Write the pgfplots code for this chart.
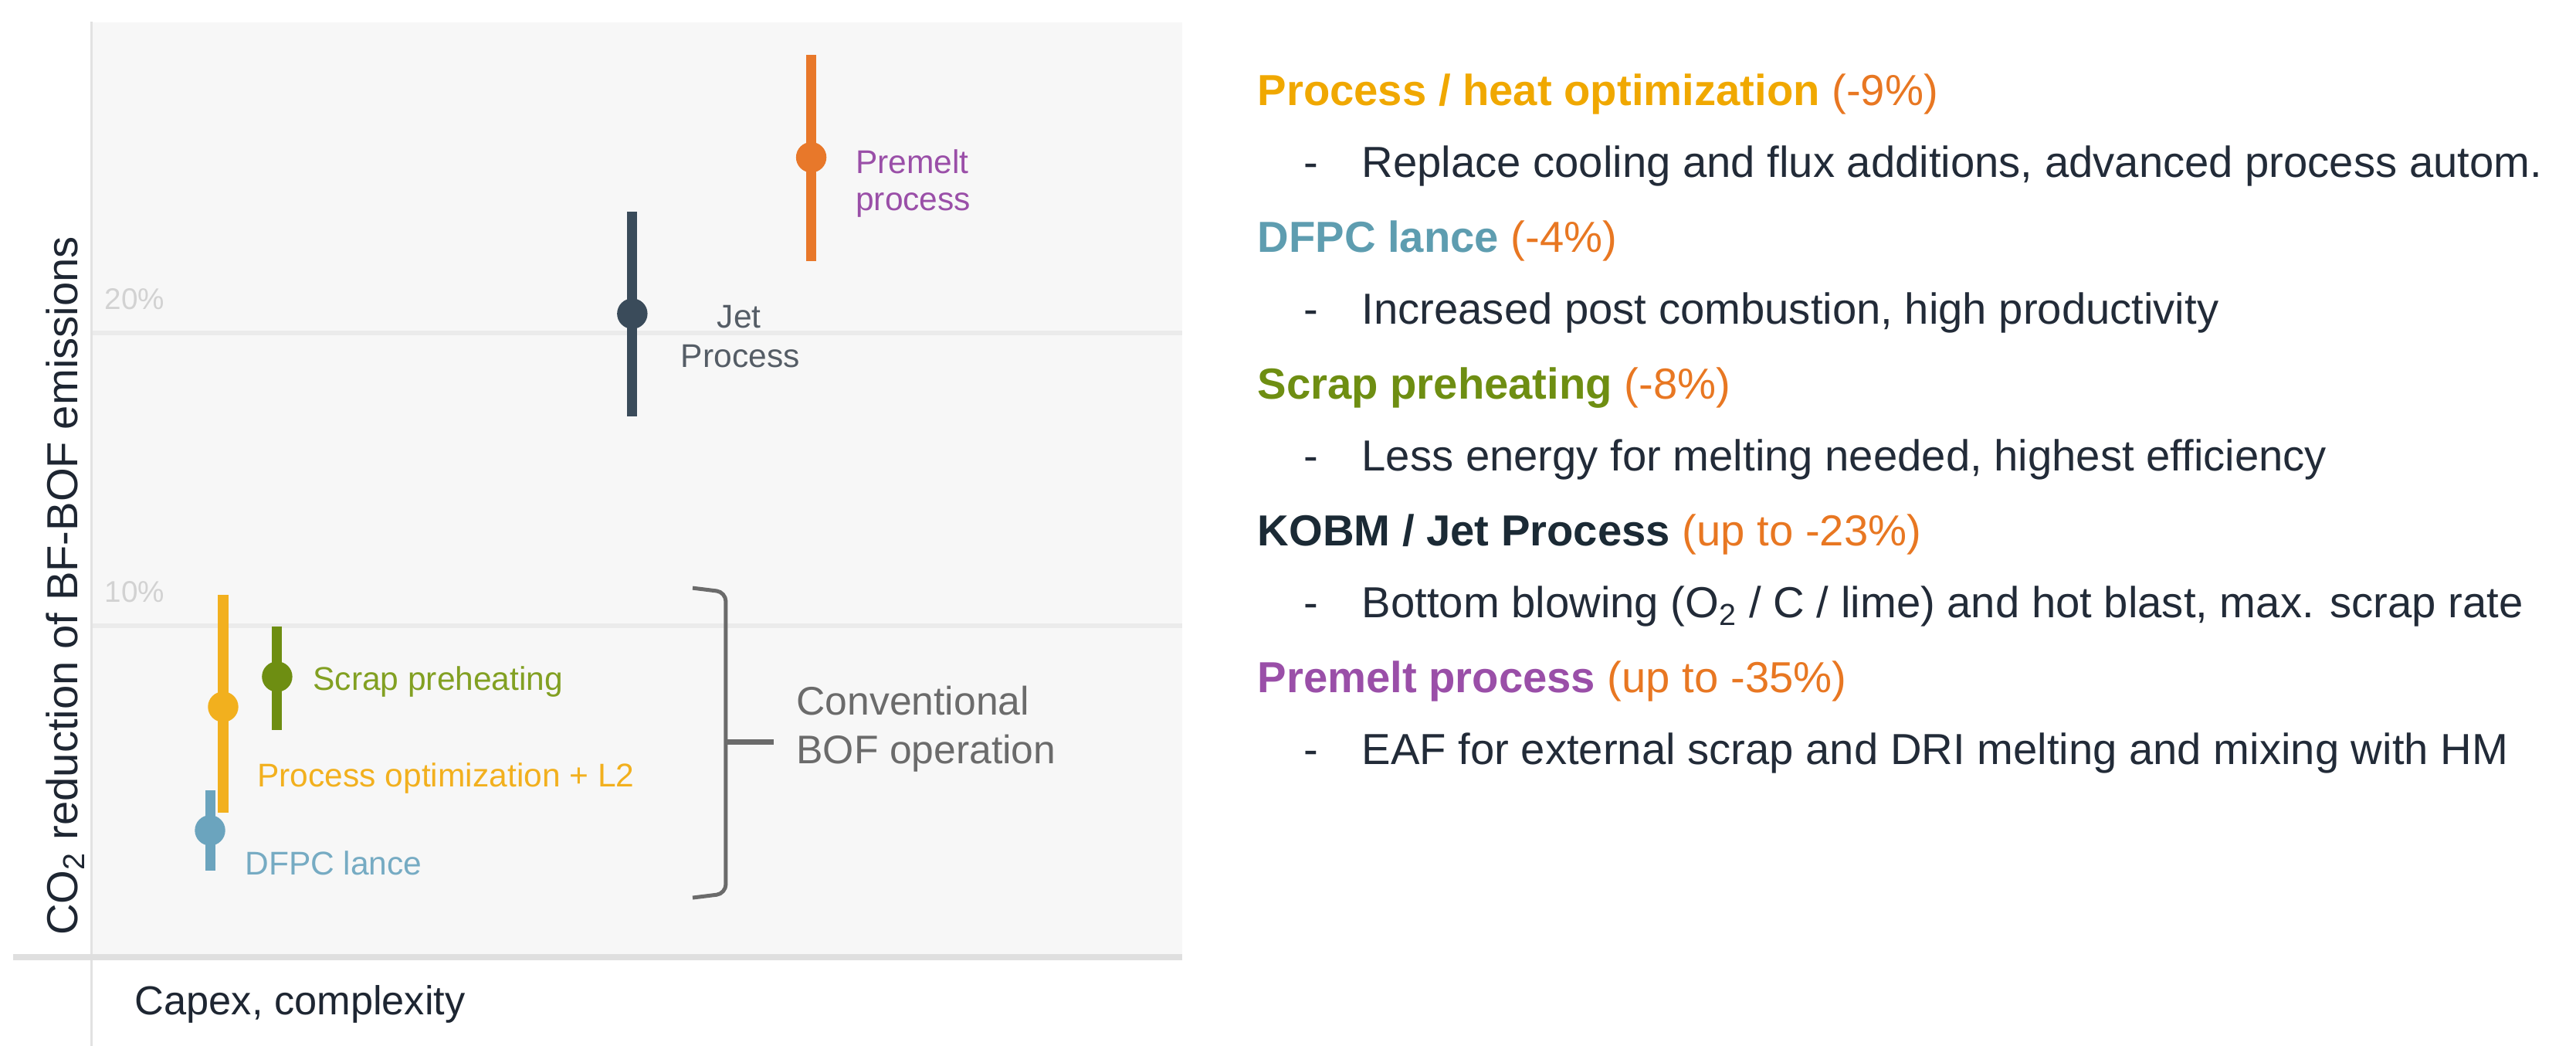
\documentclass[border=0pt]{standalone}
\usepackage{pgfplots}
\pgfplotsset{compat=1.18}
\usepackage{fontspec}
\setmainfont{Liberation Sans}

\definecolor{plotbg}{HTML}{F7F7F7}
\definecolor{gridc}{HTML}{EBEBEB}
\definecolor{axisc}{HTML}{E2E2E2}
\definecolor{tickc}{HTML}{D2D2D2}
\definecolor{cPremelt}{HTML}{E8782A}
\definecolor{cPremeltTxt}{HTML}{9A4FA8}
\definecolor{cJet}{HTML}{3A4B5A}
\definecolor{cJetTxt}{HTML}{555D66}
\definecolor{cProc}{HTML}{F2B01E}
\definecolor{cProcHead}{HTML}{F0A800}
\definecolor{cScrap}{HTML}{6E8E12}
\definecolor{cScrapTxt}{HTML}{82A022}
\definecolor{cDFPC}{HTML}{6BA4BE}
\definecolor{cDFPCTxt}{HTML}{76ABC3}
\definecolor{cDFPCHead}{HTML}{5E9DB0}
\definecolor{cPct}{HTML}{E87722}
\definecolor{cKOBM}{HTML}{1B2A35}
\definecolor{cBody}{HTML}{222B38}
\definecolor{cBrace}{HTML}{6B6B6B}
\definecolor{cLabel}{HTML}{1E2632}

\newcommand{\lblfont}{\fontsize{12.1}{14}\selectfont}
\newcommand{\legfont}{\fontsize{16}{19}\selectfont}

\begin{document}
\begin{tikzpicture}
\useasboundingbox (0,0) rectangle (333.6mm,135.4mm);

\begin{axis}[
  at={(11.8mm,11.5mm)}, anchor=south west,
  scale only axis, width=141.3mm, height=121mm,
  xmin=0, xmax=100, ymin=-1.32, ymax=30.61,
  axis line style={draw=none},
  axis background/.style={fill=plotbg},
  xtick=\empty,
  ytick={10,20}, yticklabels={10\%,20\%},
  major tick length=0pt,
  ymajorgrids, grid style={line width=0.6mm, color=gridc},
  yticklabel style={anchor=base west, xshift=1.7mm, yshift=3.1mm,
    font=\fontsize{11}{13}\selectfont, text=tickc, inner sep=0pt},
  clip=false,
  every node/.style={inner sep=0pt},
]

% ranges of CO2 reduction, dot = expected value
\addplot[only marks, mark=*, mark size=1.9mm, color=cPremelt,
  error bars/.cd, y dir=both, y explicit, error mark=none,
  error bar style={line width=1.3mm, color=cPremelt}]
  coordinates {(66.0,26.0) += (0,3.5) -= (0,3.55)};
\addplot[only marks, mark=*, mark size=1.9mm, color=cJet,
  error bars/.cd, y dir=both, y explicit, error mark=none,
  error bar style={line width=1.3mm, color=cJet}]
  coordinates {(49.6,20.66) += (0,3.48) -= (0,3.51)};
\addplot[only marks, mark=*, mark size=1.9mm, color=cProc,
  error bars/.cd, y dir=both, y explicit, error mark=none,
  error bar style={line width=1.4mm, color=cProc}]
  coordinates {(12.1,7.23) += (0,3.83) -= (0,3.62)};
\addplot[only marks, mark=*, mark size=1.9mm, color=cScrap,
  error bars/.cd, y dir=both, y explicit, error mark=none,
  error bar style={line width=1.3mm, color=cScrap}]
  coordinates {(17.05,8.26) += (0,1.71) -= (0,1.82)};
\addplot[only marks, mark=*, mark size=1.9mm, color=cDFPC,
  error bars/.cd, y dir=both, y explicit, error mark=none,
  error bar style={line width=1.3mm, color=cDFPC}]
  coordinates {(10.9,3.01) += (0,1.37) -= (0,1.37)};

\node[anchor=base west, font=\lblfont, text=cPremeltTxt] at (axis cs:69.2,25.46) {Premelt};
\node[anchor=base west, font=\lblfont, text=cPremeltTxt] at (axis cs:69.2,24.19) {process};
\node[anchor=base, font=\lblfont, text=cJetTxt] at (axis cs:59.4,20.16) {Jet};
\node[anchor=base, font=\lblfont, text=cJetTxt] at (axis cs:59.5,18.84) {Process};
\node[anchor=base west, font=\lblfont, text=cScrapTxt] at (axis cs:19.46,7.81) {Scrap preheating};
\node[anchor=base west, font=\lblfont, text=cProc] at (axis cs:14.37,4.49) {Process optimization + L2};
\node[anchor=base west, font=\lblfont, text=cDFPCTxt] at (axis cs:13.23,1.48) {DFPC lance};

% bracket for the conventional group
\draw[cBrace, line width=0.5mm, rounded corners=1.2mm]
  (axis cs:55.13,11.29) -- (axis cs:58.17,11.15) -- (axis cs:58.17,0.85) -- (axis cs:55.13,0.71);
\draw[cBrace, line width=0.7mm] (axis cs:58.17,6.02) -- (axis cs:62.56,6.02);
\node[anchor=base west, font=\fontsize{14.7}{17}\selectfont, text=cBrace] at (axis cs:63.77,6.94) {Conventional};
\node[anchor=base west, font=\fontsize{14.7}{17}\selectfont, text=cBrace] at (axis cs:63.77,5.30) {BOF operation};
\end{axis}

% axis frame lines
\draw[axisc, line width=0.3mm] (11.8mm,132.6mm) -- (11.8mm,0mm);
\draw[gridc!95!black, line width=0.8mm] (1.7mm,11.5mm) -- (153.1mm,11.5mm);

\node[rotate=90, anchor=base, inner sep=0pt, font=\legfont, text=cLabel] at (10.0mm,59.55mm)
  {CO\textsubscript{2} reduction of BF-BOF emissions};
\node[anchor=base west, inner sep=0pt, font=\fontsize{14.9}{17}\selectfont, text=cLabel] at (17.4mm,4.0mm)
  {Capex, complexity};

% explanation list on the right
\begin{scope}[every node/.style={anchor=base west, inner sep=0pt, font=\legfont}]
\node at (162.8mm,121.7mm) {\textbf{\color{cProcHead}Process / heat optimization} \color{cPct}(-9\%)};
\node[text=cBody] at (168.8mm,112.4mm) {-};
\node[text=cBody] at (176.3mm,112.4mm) {Replace cooling and flux additions, advanced process autom.};
\node at (162.8mm,102.7mm) {\textbf{\color{cDFPCHead}DFPC lance} \color{cPct}(-4\%)};
\node[text=cBody] at (168.8mm,93.4mm) {-};
\node[text=cBody] at (176.3mm,93.4mm) {Increased post combustion, high productivity};
\node at (162.8mm,83.7mm) {\textbf{\color{cScrap}Scrap preheating} \color{cPct}(-8\%)};
\node[text=cBody] at (168.8mm,74.4mm) {-};
\node[text=cBody] at (176.3mm,74.4mm) {Less energy for melting needed, highest efficiency};
\node at (162.8mm,64.7mm) {\textbf{\color{cKOBM}KOBM / Jet Process} \color{cPct}(up to -23\%)};
\node[text=cBody] at (168.8mm,55.4mm) {-};
\node[text=cBody] at (176.3mm,55.4mm) {Bottom blowing (O\textsubscript{2} / C / lime) and hot blast, max. scrap rate};
\node at (162.8mm,45.7mm) {\textbf{\color{cPremeltTxt}Premelt process} \color{cPct}(up to -35\%)};
\node[text=cBody] at (168.8mm,36.4mm) {-};
\node[text=cBody] at (176.3mm,36.4mm) {EAF for external scrap and DRI melting and mixing with HM};
\end{scope}
\end{tikzpicture}
\end{document}
